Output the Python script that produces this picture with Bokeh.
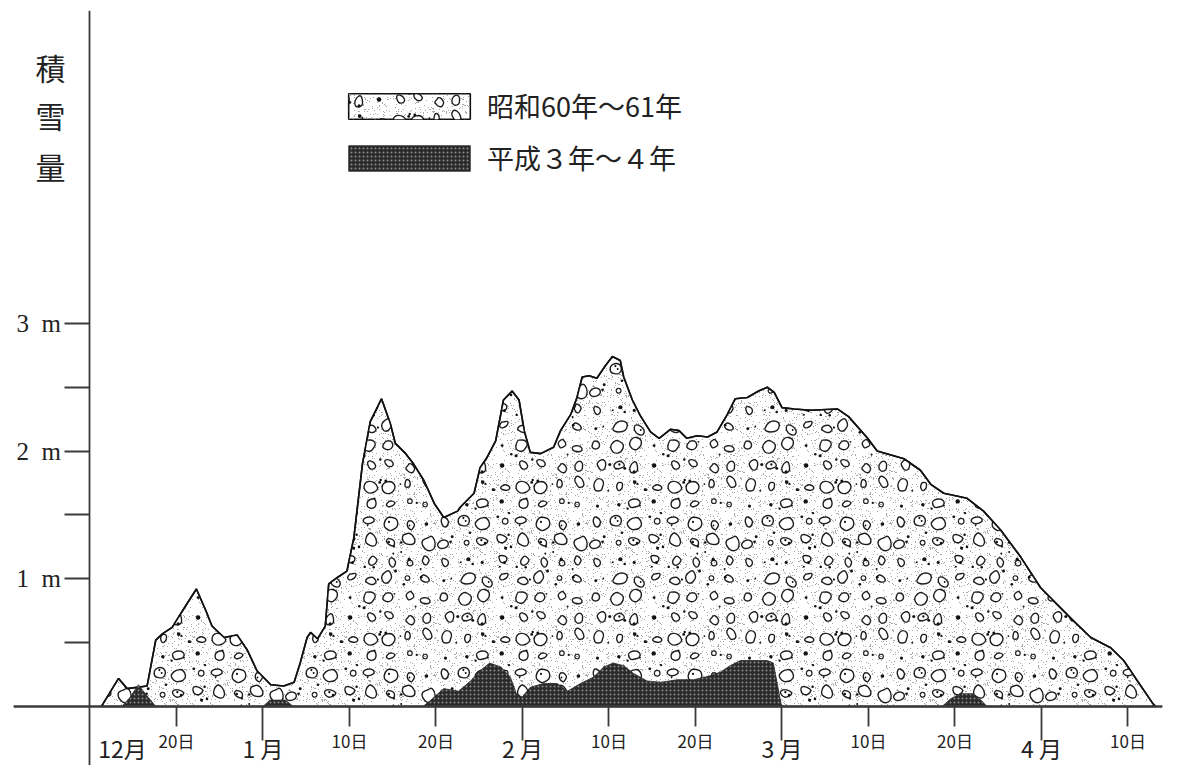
import base64
import math
from bokeh.plotting import figure
from bokeh.models import LinearAxis, FixedTicker, Range1d, Label, Legend, LegendItem, ImageURLTexture
from bokeh.embed import file_html
from bokeh.resources import INLINE

# x: position index, 10 units per tick mark, 0 = 12月10日
# y: snow depth in metres
s60_x = [1.3, 1.5, 3.3, 4.3, 6.6, 7.6, 8.4, 9.5, 10.7, 12.3, 13.4, 14.1, 15.5, 17.0, 18.2,
         19.3, 20.9, 22.4, 23.6, 24.3, 25.1, 25.5, 26.3, 27.2, 27.6, 28.6, 29.7, 30.5, 31.5,
         32.4, 33.7, 34.7, 35.3, 36.5, 37.4, 38.6, 39.8, 40.9, 42.5, 42.8, 44.4, 45.1, 45.9,
         46.9, 47.8, 48.8, 49.6, 50.2, 50.9, 52.1, 53.6, 54.4, 55.6, 56.3, 56.9, 57.7, 58.6,
         59.6, 60.4, 61.3, 61.7, 62.7, 63.6, 64.8, 65.8, 67.1, 68.1, 69.0, 70.2, 71.4, 72.5,
         73.7, 74.6, 76.0, 77.3, 78.3, 79.1, 80.0, 81.4, 83.3, 86.4, 87.7, 89.9, 91.0, 94.1,
         96.0, 97.2, 98.7, 101.4, 103.3, 105.3, 107.6, 109.9, 111.8, 113.7, 115.7, 118.0,
         119.5, 121.1, 122.8, 123.2]
s60_y = [0.0, 0.02, 0.22, 0.14, 0.16, 0.52, 0.57, 0.62, 0.75, 0.92, 0.75, 0.63, 0.54, 0.56, 0.44,
         0.28, 0.17, 0.16, 0.19, 0.34, 0.54, 0.58, 0.53, 0.63, 0.96, 1.01, 1.06, 1.32, 1.90,
         2.23, 2.41, 2.22, 2.06, 1.98, 1.90, 1.77, 1.59, 1.48, 1.53, 1.56, 1.67, 1.87, 1.95,
         2.08, 2.40, 2.47, 2.40, 2.16, 1.99, 1.98, 2.03, 2.16, 2.29, 2.42, 2.58, 2.59, 2.57,
         2.67, 2.74, 2.71, 2.58, 2.40, 2.28, 2.15, 2.10, 2.17, 2.16, 2.10, 2.12, 2.11, 2.15,
         2.29, 2.41, 2.42, 2.47, 2.50, 2.46, 2.34, 2.33, 2.32, 2.33, 2.27, 2.10, 2.00, 1.94,
         1.85, 1.74, 1.67, 1.63, 1.53, 1.38, 1.17, 0.93, 0.80, 0.67, 0.54, 0.46,
         0.36, 0.20, 0.03, 0.0]

h3_dec_x = [3.7, 4.6, 5.6, 6.4, 7.6]
h3_dec_y = [0.0, 0.07, 0.17, 0.10, 0.0]
h3_jan_x = [20.0, 20.8, 22.6, 23.5]
h3_jan_y = [0.0, 0.05, 0.05, 0.0]
h3_main_x = [38.5, 39.4, 40.9, 42.6, 44.0, 45.1, 46.2, 47.5, 48.6, 49.3, 49.9, 50.9, 52.4, 54.0,
             55.2, 56.7, 58.2, 59.4, 60.5, 61.7, 62.8, 64.4, 66.0, 67.9, 69.8, 71.7, 72.9, 74.0,
             75.2, 78.3, 79.0, 79.5, 79.9, 80.1]
h3_main_y = [0.0, 0.05, 0.14, 0.12, 0.20, 0.28, 0.34, 0.31, 0.23, 0.10, 0.07, 0.15, 0.18, 0.18,
             0.12, 0.18, 0.23, 0.31, 0.34, 0.32, 0.26, 0.20, 0.19, 0.21, 0.21, 0.24, 0.27, 0.32,
             0.36, 0.36, 0.34, 0.16, 0.02, 0.0]
h3_mar_x = [98.5, 99.5, 100.6, 102.1, 103.0, 103.7]
h3_mar_y = [0.0, 0.06, 0.10, 0.10, 0.05, 0.0]

day_ticks = [10, 30, 40, 60, 70, 90, 100, 120]
day_labels = ["20日", "10日", "20日", "10日", "20日", "10日", "20日", "10日"]
month_ticks = [20, 50, 80, 110]
month_labels = ["1 月", "2 月", "3 月", "4 月"]
first_month_label = "12月"
y_ticks = [0.5, 1.0, 1.5, 2.0, 2.5, 3.0]
y_labels = ["", "1\u2002m", "", "2\u2002m", "", "3\u2002m"]
y_title = ["積", "雪", "量"]
series_names = ["昭和60年～61年", "平成３年～４年"]

JP = "Noto Sans CJK JP"
AX = "#3a3a3a"


def pebble_tile(n=152, cell=19, seed=987654):
    """Decorative pebble texture tile (SVG), deterministic."""
    st = [seed]

    def r():
        st[0] = (st[0] * 16807) % 2147483647
        return st[0] / 2147483647

    offs = [(dx, dy) for dx in (-n, 0, n) for dy in (-n, 0, n)]
    stip = []
    for _ in range(n * n // 14):
        stip.append(f"M{int(r() * n)},{int(r() * n)}h1v1h-1z")
    out = [f'<svg xmlns="http://www.w3.org/2000/svg" width="{n}" height="{n}" viewBox="0 0 {n} {n}">',
           f'<path d="{"".join(stip)}" fill="#a8a8a8"/>']
    m = n // cell
    blobs, dots, rings = [], [], []
    for i in range(m):
        for j in range(m):
            cx = (i + 0.5) * cell + (r() - 0.5) * 6
            cy = (j + 0.5) * cell + (r() - 0.5) * 6
            k = r()
            if k < 0.72:
                a = 4.6 + r() * 3.4
                b = a * (0.6 + r() * 0.35)
                rot = r() * math.pi
                npt = 6 + int(r() * 3)
                pts = []
                for q in range(npt):
                    th = q / npt * 2 * math.pi + (r() - 0.5) * 0.5
                    f = 0.78 + r() * 0.4
                    ex, ey = math.cos(th) * a * f, math.sin(th) * b * f
                    pts.append((cx + ex * math.cos(rot) - ey * math.sin(rot),
                                cy + ex * math.sin(rot) + ey * math.cos(rot)))
                for dx, dy in offs:
                    L = len(pts)
                    mid = lambda p, q: ((p[0] + q[0]) / 2 + dx, (p[1] + q[1]) / 2 + dy)
                    s0 = mid(pts[-1], pts[0])
                    d = f"M{s0[0]:.1f},{s0[1]:.1f}"
                    for q in range(L):
                        nx = mid(pts[q], pts[(q + 1) % L])
                        d += f"Q{pts[q][0] + dx:.1f},{pts[q][1] + dy:.1f} {nx[0]:.1f},{nx[1]:.1f}"
                    blobs.append(d + "Z")
            elif k < 0.9:
                rr = 1.3 + r() * 1.0
                for dx, dy in offs:
                    dots.append(f'<circle cx="{cx + dx:.1f}" cy="{cy + dy:.1f}" r="{rr:.2f}"/>')
            else:
                rr = 2.2 + r() * 1.3
                for dx, dy in offs:
                    rings.append(f'<circle cx="{cx + dx:.1f}" cy="{cy + dy:.1f}" r="{rr:.2f}"/>')
    for _ in range(n * n // 420):
        x, y, rr = r() * n, r() * n, 0.9 + r() * 0.7
        for dx, dy in offs:
            dots.append(f'<circle cx="{x + dx:.1f}" cy="{y + dy:.1f}" r="{rr:.2f}"/>')
    out.append(f'<path d="{"".join(blobs)}" fill="#ffffff" stroke="#1e1e1e" stroke-width="1.4" stroke-linejoin="round"/>')
    out.append('<g fill="none" stroke="#222222" stroke-width="1.2">' + "".join(rings) + "</g>")
    out.append('<g fill="#111111">' + "".join(dots) + "</g>")
    out.append("</svg>")
    svg = "".join(out)
    return "data:image/svg+xml;base64," + base64.b64encode(svg.encode()).decode()


PEBBLE_URL = pebble_tile()

p = figure(width=1192, height=765, output_backend="svg", toolbar_location=None,
           x_range=Range1d(-8.844, 123.99), y_range=Range1d(-0.462, 5.450),
           min_border_left=13, min_border_right=30, min_border_top=10, min_border_bottom=0)
p.outline_line_color = None
p.grid.visible = False
p.background_fill_color = "white"

# --- 昭和 area
r_base = p.patch(s60_x, s60_y, fill_color="white", line_color="#111111", line_width=1.6)
r_tex = p.patch(s60_x, s60_y, fill_alpha=0, line_alpha=0,
                hatch_pattern="pebble",
                hatch_extra={"pebble": ImageURLTexture(url=PEBBLE_URL, repetition="repeat")})
r_edge = p.line(s60_x, s60_y, line_color="#111111", line_width=1.6)

# --- 平成 area
r_dark = p.patches([h3_dec_x, h3_jan_x, h3_main_x, h3_mar_x],
                   [h3_dec_y, h3_jan_y, h3_main_y, h3_mar_y],
                   fill_color="#2a2a2a", line_color="#2a2a2a", line_width=0.8,
                   hatch_pattern="dot", hatch_color="#8c8c8c", hatch_scale=4, hatch_weight=1)

# --- y axis
ya = p.yaxis[0]
ya.fixed_location = 0
ya.ticker = FixedTicker(ticks=y_ticks)
ya.major_label_overrides = {t: l for t, l in zip(y_ticks, y_labels)}
ya.minor_tick_line_color = None
ya.major_tick_in = 0
ya.major_tick_out = 25
ya.major_tick_line_width = 1.8
ya.major_tick_line_color = AX
ya.axis_line_color = AX
ya.axis_line_width = 1.8
ya.major_label_standoff = 4
ya.major_label_text_font = "Liberation Serif"
ya.major_label_text_font_size = "25px"
ya.major_label_text_color = "#222222"

# --- x axis (days)
xa = p.xaxis[0]
xa.fixed_location = 0
xa.ticker = FixedTicker(ticks=day_ticks)
xa.major_label_overrides = {t: l for t, l in zip(day_ticks, day_labels)}
xa.minor_tick_line_color = None
xa.major_tick_in = 0
xa.major_tick_out = 20
xa.major_tick_line_width = 1.8
xa.major_tick_line_color = AX
xa.axis_line_color = AX
xa.axis_line_width = 1.8
xa.major_label_standoff = 2
xa.major_label_text_font = JP
xa.major_label_text_font_size = "17px"
xa.major_label_text_color = "#222222"

# --- x axis (months)
ma = LinearAxis(fixed_location=0, ticker=FixedTicker(ticks=month_ticks),
                major_label_overrides={t: l for t, l in zip(month_ticks, month_labels)})
ma.minor_tick_line_color = None
ma.major_tick_in = 0
ma.major_tick_out = 34
ma.major_tick_line_width = 1.8
ma.major_tick_line_color = AX
ma.axis_line_color = AX
ma.axis_line_width = 1.8
ma.major_label_standoff = -9
ma.major_label_text_font = JP
ma.major_label_text_font_size = "23px"
ma.major_label_text_color = "#222222"
p.add_layout(ma, "below")

p.add_layout(Label(x=3.76, y=-0.322, text=first_month_label, text_font=JP,
                   text_font_size="23px", text_align="center", text_baseline="middle",
                   text_color="#222222"))

for ch, yy in zip(y_title, [5.01, 4.628, 4.229]):
    p.add_layout(Label(x=-4.57, y=yy, text=ch, text_font=JP, text_font_size="30px",
                       text_align="center", text_baseline="middle", text_color="#222222"))

legend = Legend(items=[LegendItem(label=series_names[0], renderers=[r_base, r_tex]),
                       LegendItem(label=series_names[1], renderers=[r_dark])],
                location=(320, 588), orientation="vertical",
                glyph_width=152, glyph_height=32, label_height=26,
                label_standoff=2, spacing=13, padding=0, margin=0,
                label_text_font=JP, label_text_font_size="27px", label_text_color="#222222",
                label_text_baseline="middle",
                border_line_alpha=0, background_fill_alpha=0)
p.add_layout(legend)

open("out.html", "w").write(file_html(p, INLINE))
